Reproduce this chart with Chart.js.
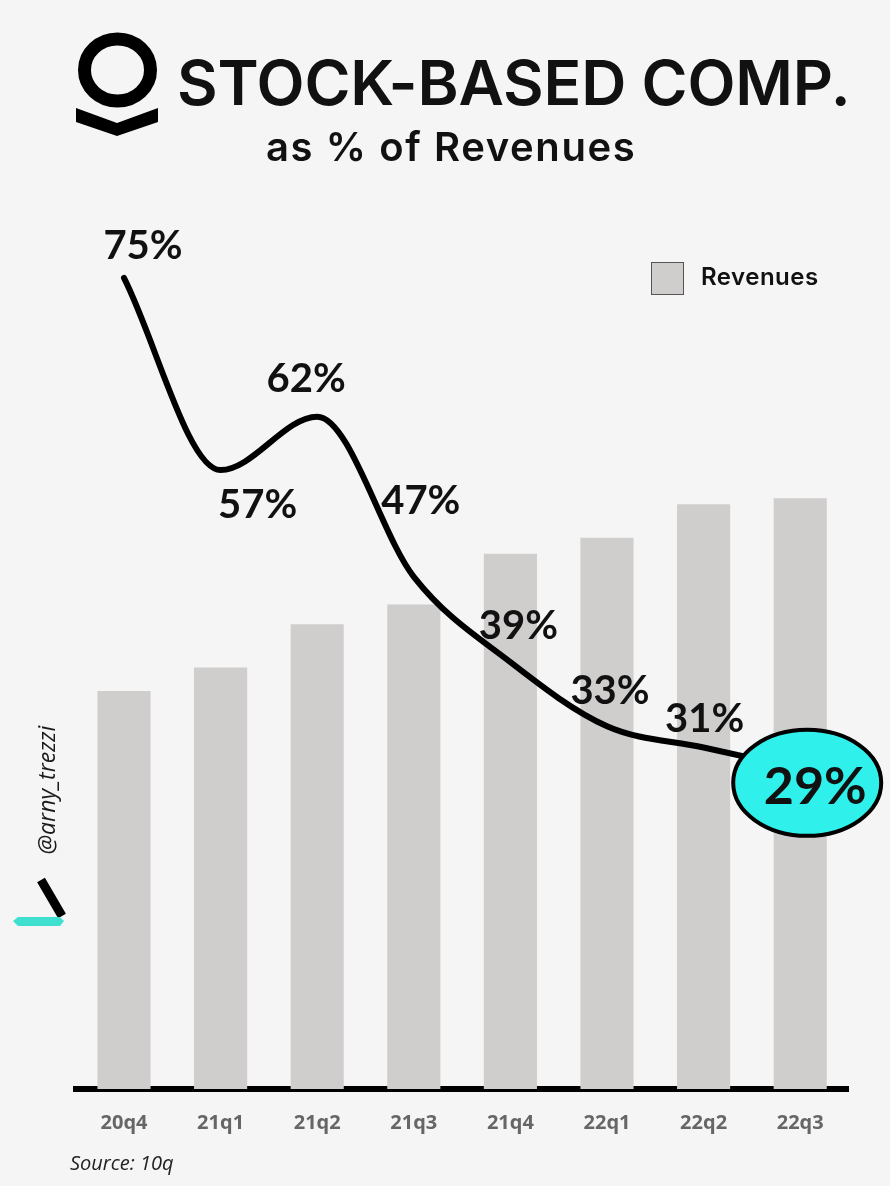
<!DOCTYPE html>
<html>
<head>
<meta charset="utf-8">
<script src="https://cdn.jsdelivr.net/npm/chart.js@4.4.1/dist/chart.umd.min.js"></script>
<style>
  html, body { margin: 0; padding: 0; background: #f5f5f5; }
  #wrap { position: relative; width: 890px; height: 1186px; overflow: hidden; }
  #chart { position: absolute; left: 0; top: 0; }
  .txt { position: absolute; white-space: nowrap; line-height: 1; color: #111; }
  #title { left: 177px; top: 44px; font: 600 62.5px Inter, sans-serif; letter-spacing: -0.2px; }
  #subtitle { left: 266px; top: 122px; font: 600 40px Inter, sans-serif; letter-spacing: 1.6px; }
  #legend { position: absolute; left: 651px; top: 262px; }
  #legend .box { position: absolute; left: 0; top: 0; width: 31px; height: 31px; background: #d0cdcd; border: 1px solid #555; }
  #legend .lbl { position: absolute; left: 50px; top: 3px; font: 600 24px Inter, sans-serif; letter-spacing: 0.5px; color: #111; white-space: nowrap; line-height: 1; }
  #handle { left: 46px; top: 790px; font: italic 23px "Open Sans", sans-serif; color: #1a1a1a;
            transform: translate(-50%, -50%) rotate(-90deg); }
  #source { left: 70px; top: 1149px; font: italic 20px "Open Sans", sans-serif; color: #222; }
  svg { position: absolute; left: 0; top: 0; }
</style>
</head>
<body>
<div id="wrap">
  <canvas id="chart" width="890" height="1186"></canvas>
  <svg width="890" height="1186">
    <!-- logo -->
    <ellipse cx="117.5" cy="70" rx="33" ry="31" fill="none" stroke="#000" stroke-width="13"/>
    <polygon points="76,108 117,123 158,108 158,122 117,136 76,122" fill="#000"/>
    <!-- watermark mark -->
    <line x1="41" y1="880" x2="62" y2="916" stroke="#000" stroke-width="9"/>
    <polygon points="13,921 18,917 60,917 64,921 60,926 18,926" fill="#40e0d0"/>
  </svg>
  <div class="txt" id="title">STOCK-BASED COMP.</div>
  <div class="txt" id="subtitle">as % of Revenues</div>
  <div id="legend"><div class="box"></div><div class="lbl">Revenues</div></div>
  <div class="txt" id="handle">@arny_trezzi</div>
  <div class="txt" id="source">Source: 10q</div>
</div>
<script>
// quarters, revenue (USD m) and stock-based comp as % of revenue
const quarters = ['20q4', '21q1', '21q2', '21q3', '21q4', '22q1', '22q2', '22q3'];
const revenues = [322, 341, 376, 392, 433, 446, 473, 478];
const sbcPct = [75, 57, 62, 47, 39, 33, 31, 29];

// where each % label sits relative to its point (px)
const labelOffsets = [[19, -32], [37, 35], [-11, -38], [7, -76], [8, -36], [3, -35], [1, -28]];

const pctLabels = {
  id: 'pctLabels',
  afterDatasetsDraw(chart) {
    const ctx = chart.ctx;
    const pts = chart.getDatasetMeta(0).data;
    ctx.save();
    ctx.fillStyle = '#111';
    ctx.textAlign = 'center';
    ctx.textBaseline = 'middle';
    ctx.font = 'bold 40px Lato';
    labelOffsets.forEach((o, i) => {
      ctx.fillText(sbcPct[i] + '%', pts[i].x + o[0], pts[i].y + o[1]);
    });
    // highlight the latest quarter
    const last = pts[pts.length - 1];
    ctx.beginPath();
    ctx.ellipse(last.x + 7, last.y + 14, 74, 53, 0, 0, Math.PI * 2);
    ctx.fillStyle = '#2ff0ea';
    ctx.fill();
    ctx.lineWidth = 4;
    ctx.strokeStyle = '#000';
    ctx.stroke();
    ctx.fillStyle = '#111';
    ctx.font = 'bold 52px Lato';
    ctx.fillText(sbcPct[sbcPct.length - 1] + '%', last.x + 15, last.y + 18);
    ctx.restore();
  }
};

new Chart(document.getElementById('chart'), {
  type: 'bar',
  data: {
    labels: quarters,
    datasets: [
      {
        type: 'line',
        label: 'SBC %',
        data: sbcPct,
        yAxisID: 'y1',
        order: 0,
        borderColor: '#000',
        borderWidth: 6,
        borderCapStyle: 'round',
        cubicInterpolationMode: 'monotone',
        pointRadius: 0,
        fill: false
      },
      {
        label: 'Revenues',
        data: revenues,
        yAxisID: 'y',
        order: 1,
        backgroundColor: '#d0cdcd',
        barPercentage: 0.55,
        categoryPercentage: 1
      }
    ]
  },
  options: {
    responsive: false,
    animation: false,
    layout: { padding: { left: 75.7, right: 41.5, top: 199, bottom: 29 } },
    plugins: { legend: { display: false }, tooltip: { enabled: false } },
    scales: {
      x: {
        grid: { display: false, drawTicks: false },
        border: { display: true, color: '#000', width: 6 },
        ticks: { color: '#666', font: { family: "'Open Sans'", size: 20, weight: 'bold' }, padding: 22 }
      },
      y: { display: false, min: 0, max: 720 },
      y1: { display: false, min: -1, max: 82.4 }
    }
  },
  plugins: [pctLabels]
});
</script>
</body>
</html>
